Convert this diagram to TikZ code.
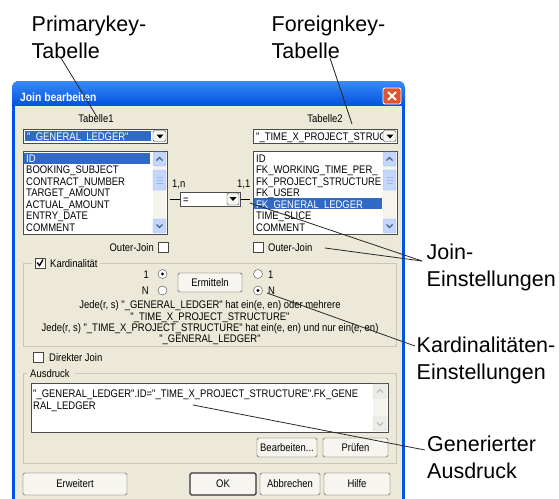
\documentclass[tikz,border=0pt]{standalone}
\usepackage{fontspec}
\setmainfont{Liberation Sans}
\newfontfamily\dlgfont[FakeStretch=0.86,Ligatures=TeXOff]{Liberation Sans}

\definecolor{xpbeige}{RGB}{236,233,216}
\definecolor{xpblue}{RGB}{0,84,227}
\definecolor{xptitletop}{RGB}{58,138,250}
\definecolor{xptitlebot}{RGB}{0,80,222}
\definecolor{selblue}{RGB}{49,106,197}
\definecolor{sbfill}{RGB}{196,214,252}
\definecolor{sbedge}{RGB}{160,185,235}
\definecolor{sbarrow}{RGB}{77,97,133}
\definecolor{sbtrack}{RGB}{244,243,238}
\definecolor{grpline}{RGB}{200,199,184}
\definecolor{closered}{RGB}{222,84,45}
\definecolor{btnfill}{RGB}{246,245,240}
\definecolor{offfill}{RGB}{236,236,232}
\definecolor{offarrow}{RGB}{190,190,185}
\definecolor{noteline}{RGB}{40,40,40}

\begin{document}
\begin{tikzpicture}[x=1pt,y=-1pt,
  dlg/.style={font=\dlgfont\fontsize{11}{12}\selectfont, inner sep=0pt},
  note/.style={font=\fontsize{21.5}{27}\selectfont, inner sep=0pt, align=left, anchor=north west},
  noteline/.style={draw=noteline, line width=0.8pt},
  field/.style={draw=gray!60!black, fill=white},
  button/.style={draw=gray!55!black, fill=btnfill, rounded corners=1.5pt},
  grp/.style={draw=grpline, line width=0.8pt},
  tickbox/.style={draw=gray!55!black, fill=white},
  radio/.style={draw=gray!55!black, fill=white},
  sbbtn/.style={draw=sbedge, fill=sbfill, rounded corners=1.5pt},
  sbchev/.style={draw=sbarrow, line width=1.3pt},
  offbtn/.style={draw=offarrow!60, fill=offfill, rounded corners=1.5pt},
  offchev/.style={draw=offarrow, line width=1.2pt},
]
\useasboundingbox (0,0) rectangle (559,498);
\fill[white] (0,0) rectangle (559,498);

% ---------- window frame and title bar ----------
\begin{scope}
  \clip[rounded corners=7pt] (12,81) rectangle (405,540);
  \fill[xpblue] (12,81) rectangle (405,540);
  \shade[top color=xptitletop, bottom color=xptitlebot] (12,81) rectangle (405,106);
\end{scope}
\fill[xpbeige] (15,106) rectangle (402,540);
\node[inner sep=0pt, font=\dlgfont\bfseries\fontsize{12}{13}\selectfont, text=white, anchor=base west] (title) at (20,101) {Join bearbeiten};
\draw[white, fill=closered, rounded corners=2pt, line width=0.8pt] (383,88) rectangle (401,104);
\draw[white, line width=1.8pt] (388,92) -- (396,100) (396,92) -- (388,100);

% ---------- table selectors ----------
\node[dlg, anchor=base] (tab1) at (96,122) {Tabelle1};
\node[dlg, anchor=base] (tab2) at (325,122) {Tabelle2};

\draw[field] (23,129) rectangle (167,143);
\fill[selblue] (25,131) rectangle (151,141);
\node[dlg, anchor=base west, text=white] (combo1) at (27,140) {"\_GENERAL\_LEDGER"};
\draw[button] (153,130.5) rectangle (166,141.5);
\fill (156.5,134.5) -- (163.5,134.5) -- (160,138.5) -- cycle;

\draw[field] (253,129) rectangle (397,143);
\begin{scope}
  \clip (254,130) rectangle (382,142);
  \node[dlg, anchor=base west] (combo2) at (256,140) {"\_TIME\_X\_PROJECT\_STRUCTURE"};
\end{scope}
\draw[button] (383,130.5) rectangle (396,141.5);
\fill (386.5,134.5) -- (393.5,134.5) -- (390,138.5) -- cycle;

% ---------- column lists ----------
\draw[field] (23,151) rectangle (167,234);
\begin{scope}
  \clip (24,152) rectangle (152,233);
  \fill[selblue] (24,152.5) rectangle (150,163.5);
  \node[dlg, anchor=base west, text=white] (pk1) at (26,162) {ID};
  \node[dlg, anchor=base west] (pk2) at (26,173.5) {BOOKING\_SUBJECT};
  \node[dlg, anchor=base west] (pk3) at (26,185) {CONTRACT\_NUMBER};
  \node[dlg, anchor=base west] (pk4) at (26,196.5) {TARGET\_AMOUNT};
  \node[dlg, anchor=base west] (pk5) at (26,208) {ACTUAL\_AMOUNT};
  \node[dlg, anchor=base west] (pk6) at (26,219.5) {ENTRY\_DATE};
  \node[dlg, anchor=base west] (pk7) at (26,231) {COMMENT};
\end{scope}
\fill[sbtrack] (153,152) rectangle (166,233);
\draw[sbbtn] (153,152) rectangle (166,166);
\draw[sbchev] (156.5,160.5) -- (159.5,157.5) -- (162.5,160.5);
\draw[sbbtn] (153,170) rectangle (166,190);
\draw[sbedge] (156.5,177) -- (162.5,177) (156.5,180) -- (162.5,180) (156.5,183) -- (162.5,183);
\draw[sbbtn] (153,219) rectangle (166,233);
\draw[sbchev] (156.5,224.5) -- (159.5,227.5) -- (162.5,224.5);

\draw[field] (253,151) rectangle (397,234);
\begin{scope}
  \clip (254,152) rectangle (382,233);
  \fill[selblue] (254,198) rectangle (382,209);
  \node[dlg, anchor=base west] (fk1) at (256,162) {ID};
  \node[dlg, anchor=base west] (fk2) at (256,173.5) {FK\_WORKING\_TIME\_PER\_};
  \node[dlg, anchor=base west] (fk3) at (256,185) {FK\_PROJECT\_STRUCTURE};
  \node[dlg, anchor=base west] (fk4) at (256,196.5) {FK\_USER};
  \node[dlg, anchor=base west, text=white] (fk5) at (256,208) {FK\_GENERAL\_LEDGER};
  \node[dlg, anchor=base west] (fk6) at (256,219.5) {TIME\_SLICE};
  \node[dlg, anchor=base west] (fk7) at (256,231) {COMMENT};
\end{scope}
\fill[sbtrack] (383,152) rectangle (396,233);
\draw[sbbtn] (383,152) rectangle (396,166);
\draw[sbchev] (386.5,160.5) -- (389.5,157.5) -- (392.5,160.5);
\draw[sbbtn] (383,170) rectangle (396,190);
\draw[sbedge] (386.5,177) -- (392.5,177) (386.5,180) -- (392.5,180) (386.5,183) -- (392.5,183);
\draw[sbbtn] (383,219) rectangle (396,233);
\draw[sbchev] (386.5,224.5) -- (389.5,227.5) -- (392.5,224.5);

% ---------- join operator ----------
\node[dlg, anchor=base west] (cardL) at (172,187) {1,n};
\node[dlg, anchor=base west] (cardR) at (237,187) {1,1};
\draw (170,199) -- (180,199) (240,199) -- (250,199);
\draw[field] (180,192) rectangle (240,206);
\node[dlg, anchor=base west] (op) at (183,203) {=};
\draw[button] (227,193) rectangle (239,205);
\fill (229.5,197) -- (236.5,197) -- (233,201) -- cycle;

% ---------- outer join switches ----------
\node[dlg, anchor=base east] (outer1) at (154,251) {Outer-Join};
\draw[tickbox] (158,242) rectangle (168,252);
\draw[tickbox] (253,242) rectangle (263,252);
\node[dlg, anchor=base west] (outer2) at (268,251) {Outer-Join};

% ---------- cardinality group ----------
\draw[grp] (32,263) -- (23,263) -- (23,346) -- (396,346) -- (396,263) -- (100,263);
\draw[tickbox] (35,258) rectangle (45,268);
\draw[line width=1.4pt] (37,262.5) -- (39.5,265.5) -- (43,259.5);
\node[dlg, anchor=base west] (kard) at (50,267) {Kardinalität};

\node[dlg, anchor=base east] (r1a) at (149,278) {1};
\draw[radio] (162.5,274) circle[radius=4.5pt];
\fill (162.5,274) circle[radius=1.6pt];
\node[dlg, anchor=base east] (rNa) at (149,294) {N};
\draw[radio] (162.5,290.5) circle[radius=4.5pt];

\draw[button] (178,273) rectangle (242,292);
\node[dlg] (ermitteln) at (210,282.5) {Ermitteln};

\draw[radio] (258,274) circle[radius=4.5pt];
\node[dlg, anchor=base west] (r1b) at (268,278) {1};
\draw[radio] (258,290.5) circle[radius=4.5pt];
\fill (258,290.5) circle[radius=1.6pt];
\node[dlg, anchor=base west] (rNb) at (268,294) {N};

\node[dlg, anchor=base] (jede1) at (210,308) {Jede(r, s) "\_GENERAL\_LEDGER" hat ein(e, en) oder mehrere};
\node[dlg, anchor=base] (jede2) at (210,320) {"\_TIME\_X\_PROJECT\_STRUCTURE"};
\node[dlg, anchor=base] (jede3) at (210,331) {Jede(r, s) "\_TIME\_X\_PROJECT\_STRUCTURE" hat ein(e, en) und nur ein(e, en)};
\node[dlg, anchor=base] (jede4) at (210,342) {"\_GENERAL\_LEDGER"};

% ---------- direct join ----------
\draw[tickbox] (33,352) rectangle (43,362);
\node[dlg, anchor=base west] (direkt) at (49,361) {Direkter Join};

% ---------- expression group ----------
\draw[grp] (27,373) -- (23,373) -- (23,463) -- (396,463) -- (396,373) -- (75,373);
\node[dlg, anchor=base west] (ausdruck) at (30,377) {Ausdruck};
\draw[field] (31,383) rectangle (388,432);
\node[dlg, anchor=base west] (expr1) at (33,397) {"\_GENERAL\_LEDGER".ID="\_TIME\_X\_PROJECT\_STRUCTURE".FK\_GENE};
\node[dlg, anchor=base west] (expr2) at (33,409) {RAL\_LEDGER};
\fill[sbtrack] (373,384) rectangle (387,431);
\draw[offbtn] (373,384) rectangle (387,398);
\draw[offchev] (377,392.5) -- (380,389.5) -- (383,392.5);
\draw[offbtn] (373,417) rectangle (387,431);
\draw[offchev] (377,422.5) -- (380,425.5) -- (383,422.5);

\draw[button] (257,438) rectangle (317,457);
\node[dlg] (bearb) at (287,447.5) {Bearbeiten...};
\draw[button] (323,438) rectangle (388,457);
\node[dlg] (pruefen) at (355.5,447.5) {Prüfen};

% ---------- dialog buttons ----------
\draw[button] (23,473) rectangle (127,495);
\node[dlg] (erweitert) at (75,484) {Erweitert};
\draw[button, draw=black!80, line width=1.2pt] (190,473) rectangle (256,495);
\node[dlg] (ok) at (223,484) {OK};
\draw[button] (260,473) rectangle (320,495);
\node[dlg] (abbrechen) at (290,484) {Abbrechen};
\draw[button] (324,473) rectangle (390,495);
\node[dlg] (hilfe) at (357,484) {Hilfe};

% ---------- annotations ----------
\node[note] (pkNote) at (31.5,15.8) {Primarykey-\\Tabelle};
\node[note] (fkNote) at (271.5,15.8) {Foreignkey-\\Tabelle};
\node[note] (joinNote) at (426.5,244) {Join-\\Einstellungen};
\node[note] (kardNote) at (416.5,337) {Kardinalitäten-\\Einstellungen};
\node[note] (genNote) at (427,436) {Generierter\\Ausdruck};

\coordinate (pkFoot) at (61,58);
\coordinate (pkTip) at (97,117);
\coordinate (fkFoot) at (330,58);
\coordinate (fkTip) at (352,124);
\coordinate (joinHub) at (422,261);
\coordinate (joinTipA) at (250,203);
\coordinate (joinTipB) at (325,248);
\coordinate (kardHub) at (415,346);
\coordinate (kardTip) at (267,293);
\coordinate (genHub) at (425,450);
\coordinate (genTip) at (193,405);

\draw[noteline] (pkFoot) -- (pkTip);
\draw[noteline] (fkFoot) -- (fkTip);
\draw[noteline] (joinHub) -- (joinTipA);
\draw[noteline] (joinHub) -- (joinTipB);
\draw[noteline] (kardHub) -- (kardTip);
\draw[noteline] (genHub) -- (genTip);
\end{tikzpicture}
\end{document}
